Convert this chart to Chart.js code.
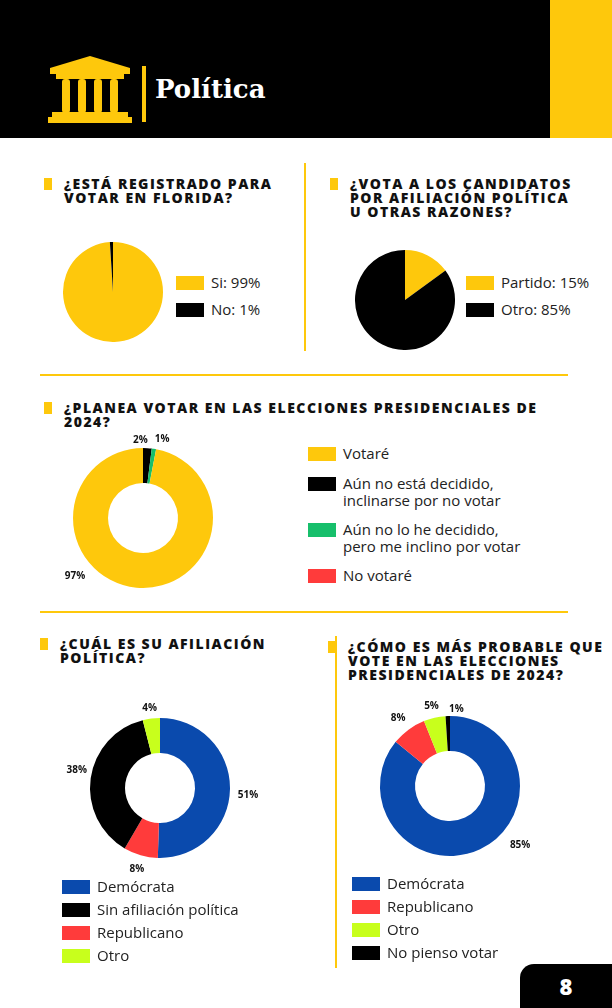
<!DOCTYPE html>
<html><head><meta charset="utf-8">
<script src="https://cdn.jsdelivr.net/npm/chart.js@4"></script>
<style>
body{margin:0;width:612px;height:1008px;background:#fff;position:relative;overflow:hidden;font-family:"Open Sans",sans-serif}
.abs{position:absolute}
.title{position:absolute;font-weight:800;font-size:14px;line-height:14px;color:#111;text-transform:uppercase;letter-spacing:1.5px}
.title:before{content:"";position:absolute;left:-20px;top:1px;width:8px;height:12px;background:#fec80c}
.leg{position:absolute;font-size:15px;color:#222;line-height:17px}
.leg .sw{position:absolute;left:0;width:28px;height:14px}
.leg div{position:absolute;white-space:nowrap}
canvas{position:absolute}
</style></head><body>
<div class="abs" style="left:0;top:0;width:550px;height:138px;background:#000"></div>
<div class="abs" style="left:550px;top:0;width:62px;height:138px;background:#fec80c"></div>
<svg class="abs" style="left:46px;top:54px" width="88" height="70" viewBox="0 0 88 70">
<polygon points="44,2 84,14 84,20 4,20 4,14" fill="#fec80c"/>
<rect x="16" y="25" width="8" height="34" rx="3" fill="#fec80c"/>
<rect x="32" y="25" width="8" height="34" rx="3" fill="#fec80c"/>
<rect x="48" y="25" width="8" height="34" rx="3" fill="#fec80c"/>
<rect x="64" y="25" width="8" height="34" rx="3" fill="#fec80c"/>
<rect x="10" y="20" width="68" height="5" fill="#fec80c"/>
<rect x="6" y="58" width="76" height="5" fill="#fec80c"/>
<rect x="2" y="63" width="84" height="6" fill="#fec80c"/>
</svg>
<div class="abs" style="left:142px;top:66px;width:4px;height:56px;background:#fec80c"></div>
<div class="abs" style="left:155px;top:74px;color:#fff;font-family:'DejaVu Serif',serif;font-weight:bold;font-size:26px">Política</div>

<div class="abs" style="left:304px;top:163px;width:2px;height:188px;background:#fec80c"></div>
<div class="abs" style="left:40px;top:374px;width:528px;height:2px;background:#fec80c"></div>
<div class="abs" style="left:40px;top:611px;width:528px;height:2px;background:#fec80c"></div>
<div class="abs" style="left:335px;top:636px;width:2px;height:332px;background:#fec80c"></div>

<div class="title" style="left:64px;top:177px">¿Está registrado para<br>votar en Florida?</div>
<div class="title" style="left:350px;top:177px">¿Vota a los candidatos<br>por afiliación política<br>u otras razones?</div>
<div class="title" style="left:64px;top:401px">¿Planea votar en las elecciones presidenciales de<br>2024?</div>
<div class="title" style="left:60px;top:637px">¿Cuál es su afiliación<br>política?</div>
<div class="title" style="left:348px;top:640px">¿Cómo es más probable que<br>vote en las elecciones<br>presidenciales de 2024?</div>

<canvas id="c1" style="left:63px;top:242px" width="100" height="100"></canvas>
<canvas id="c2" style="left:355px;top:250px" width="100" height="100"></canvas>
<canvas id="c3" style="left:43px;top:418px" width="200" height="200"></canvas>
<canvas id="c4" style="left:60px;top:688px" width="200" height="200"></canvas>
<canvas id="c5" style="left:350px;top:686px" width="200" height="200"></canvas>

<div id="l1" class="leg" style="left:176px;top:275px"></div>
<div id="l2" class="leg" style="left:466px;top:275px"></div>
<div id="l3" class="leg" style="left:308px;top:446px"></div>
<div id="l4" class="leg" style="left:62px;top:879px"></div>
<div id="l5" class="leg" style="left:352px;top:876px"></div>

<div class="abs" style="left:520px;top:964px;width:92px;height:44px;background:#000;border-top-left-radius:14px;color:#fff;font-weight:800;font-size:22px;line-height:44px;text-align:center">8</div>

<script>
const YEL = "#fec80c", BLK = "#000000", GRN = "#17bf6b", RED = "#ff3b3b", BLU = "#0a4aad", LIM = "#c8ff1c";

// Registered in Florida
const regLabels = ["Si: 99%", "No: 1%"];
const regValues = [99, 1];
const regColors = [YEL, BLK];

// Party vs other reasons
const partyLabels = ["Partido: 15%", "Otro: 85%"];
const partyValues = [15, 85];
const partyColors = [YEL, BLK];

// Plan to vote 2024 (drawn order: black, green, yellow, red)
const planLabels = ["Aún no está decidido, inclinarse por no votar", "Aún no lo he decidido, pero me inclino por votar", "Votaré", "No votaré"];
const planValues = [2, 1, 97, 0];
const planColors = [BLK, GRN, YEL, RED];
const planLegend = [["Votaré", YEL], ["Aún no está decidido,<br>inclinarse por no votar", BLK], ["Aún no lo he decidido,<br>pero me inclino por votar", GRN], ["No votaré", RED]];

// Affiliation
const affLabels = ["Demócrata", "Republicano", "Sin afiliación política", "Otro"];
const affValues = [51, 8, 38, 4];
const affColors = [BLU, RED, BLK, LIM];
const affLegend = [["Demócrata", BLU], ["Sin afiliación política", BLK], ["Republicano", RED], ["Otro", LIM]];

// Likely vote
const voteLabels = ["Demócrata", "Republicano", "Otro", "No pienso votar"];
const voteValues = [85, 8, 5, 1];
const voteColors = [BLU, RED, LIM, BLK];

const pctPlugin = {
  id: "pct",
  afterDatasetsDraw(chart, args, opts) {
    const ctx = chart.ctx;
    const meta = chart.getDatasetMeta(0);
    const nudge = opts.nudge || [];
    ctx.save();
    ctx.font = "bold 10px 'Open Sans'";
    ctx.fillStyle = "#111";
    ctx.textAlign = "center";
    ctx.textBaseline = "middle";
    meta.data.forEach((arc, i) => {
      const v = chart.data.datasets[0].data[i];
      if (!v) return;
      const a = (arc.startAngle + arc.endAngle) / 2;
      const r = arc.outerRadius + 14;
      const n = nudge[i] || [0, 0];
      ctx.fillText(v + "%", arc.x + Math.cos(a) * r + n[0], arc.y + Math.sin(a) * r + n[1]);
    });
    ctx.restore();
  }
};

function makeChart(id, type, labels, values, colors, pad, nudge) {
  return new Chart(document.getElementById(id), {
    type: type,
    data: { labels, datasets: [{ data: values, backgroundColor: colors, borderWidth: 0 }] },
    options: {
      responsive: false, animation: false, cutout: type === "doughnut" ? "50%" : 0,
      layout: { padding: pad },
      plugins: { legend: { display: false }, tooltip: { enabled: false }, pct: { nudge: nudge || [] } }
    },
    plugins: nudge ? [pctPlugin] : []
  });
}

function makeLegend(id, items, gap) {
  document.getElementById(id).innerHTML = items.map((it, i) =>
    `<span class="sw" style="top:${i * gap + 1}px;background:${it[1]}"></span><div style="left:35px;top:${i * gap - 1}px">${it[0]}</div>`).join("");
}

makeChart("c1", "pie", regLabels, regValues, regColors, 0, null);
makeChart("c2", "pie", partyLabels, partyValues, partyColors, 0, null);
makeChart("c3", "doughnut", planLabels, planValues, planColors, 30, [[-8, 6], [6, 4], [-60, -25]]);
makeChart("c4", "doughnut", affLabels, affValues, affColors, 30, [[4, 6], [0, 0], [0, -6], [0, 4]]);
makeChart("c5", "doughnut", voteLabels, voteValues, voteColors, 30, [[34, -17], [-2, 0], [0, 2], [9, 7]]);

makeLegend("l1", regLabels.map((l, i) => [l, regColors[i]]), 27);
makeLegend("l2", partyLabels.map((l, i) => [l, partyColors[i]]), 27);
makeLegend("l3", planLegend, 0);
makeLegend("l4", affLegend, 23);
makeLegend("l5", voteLabels.map((l, i) => [l, voteColors[i]]), 23);

// plan legend has uneven spacing
const tops = [0, 30, 76, 122];
document.querySelectorAll("#l3 .sw").forEach((s, i) => s.style.top = (tops[i] + 1) + "px");
document.querySelectorAll("#l3 div").forEach((d, i) => d.style.top = (tops[i] - 1) + "px");
</script>
</body></html>
